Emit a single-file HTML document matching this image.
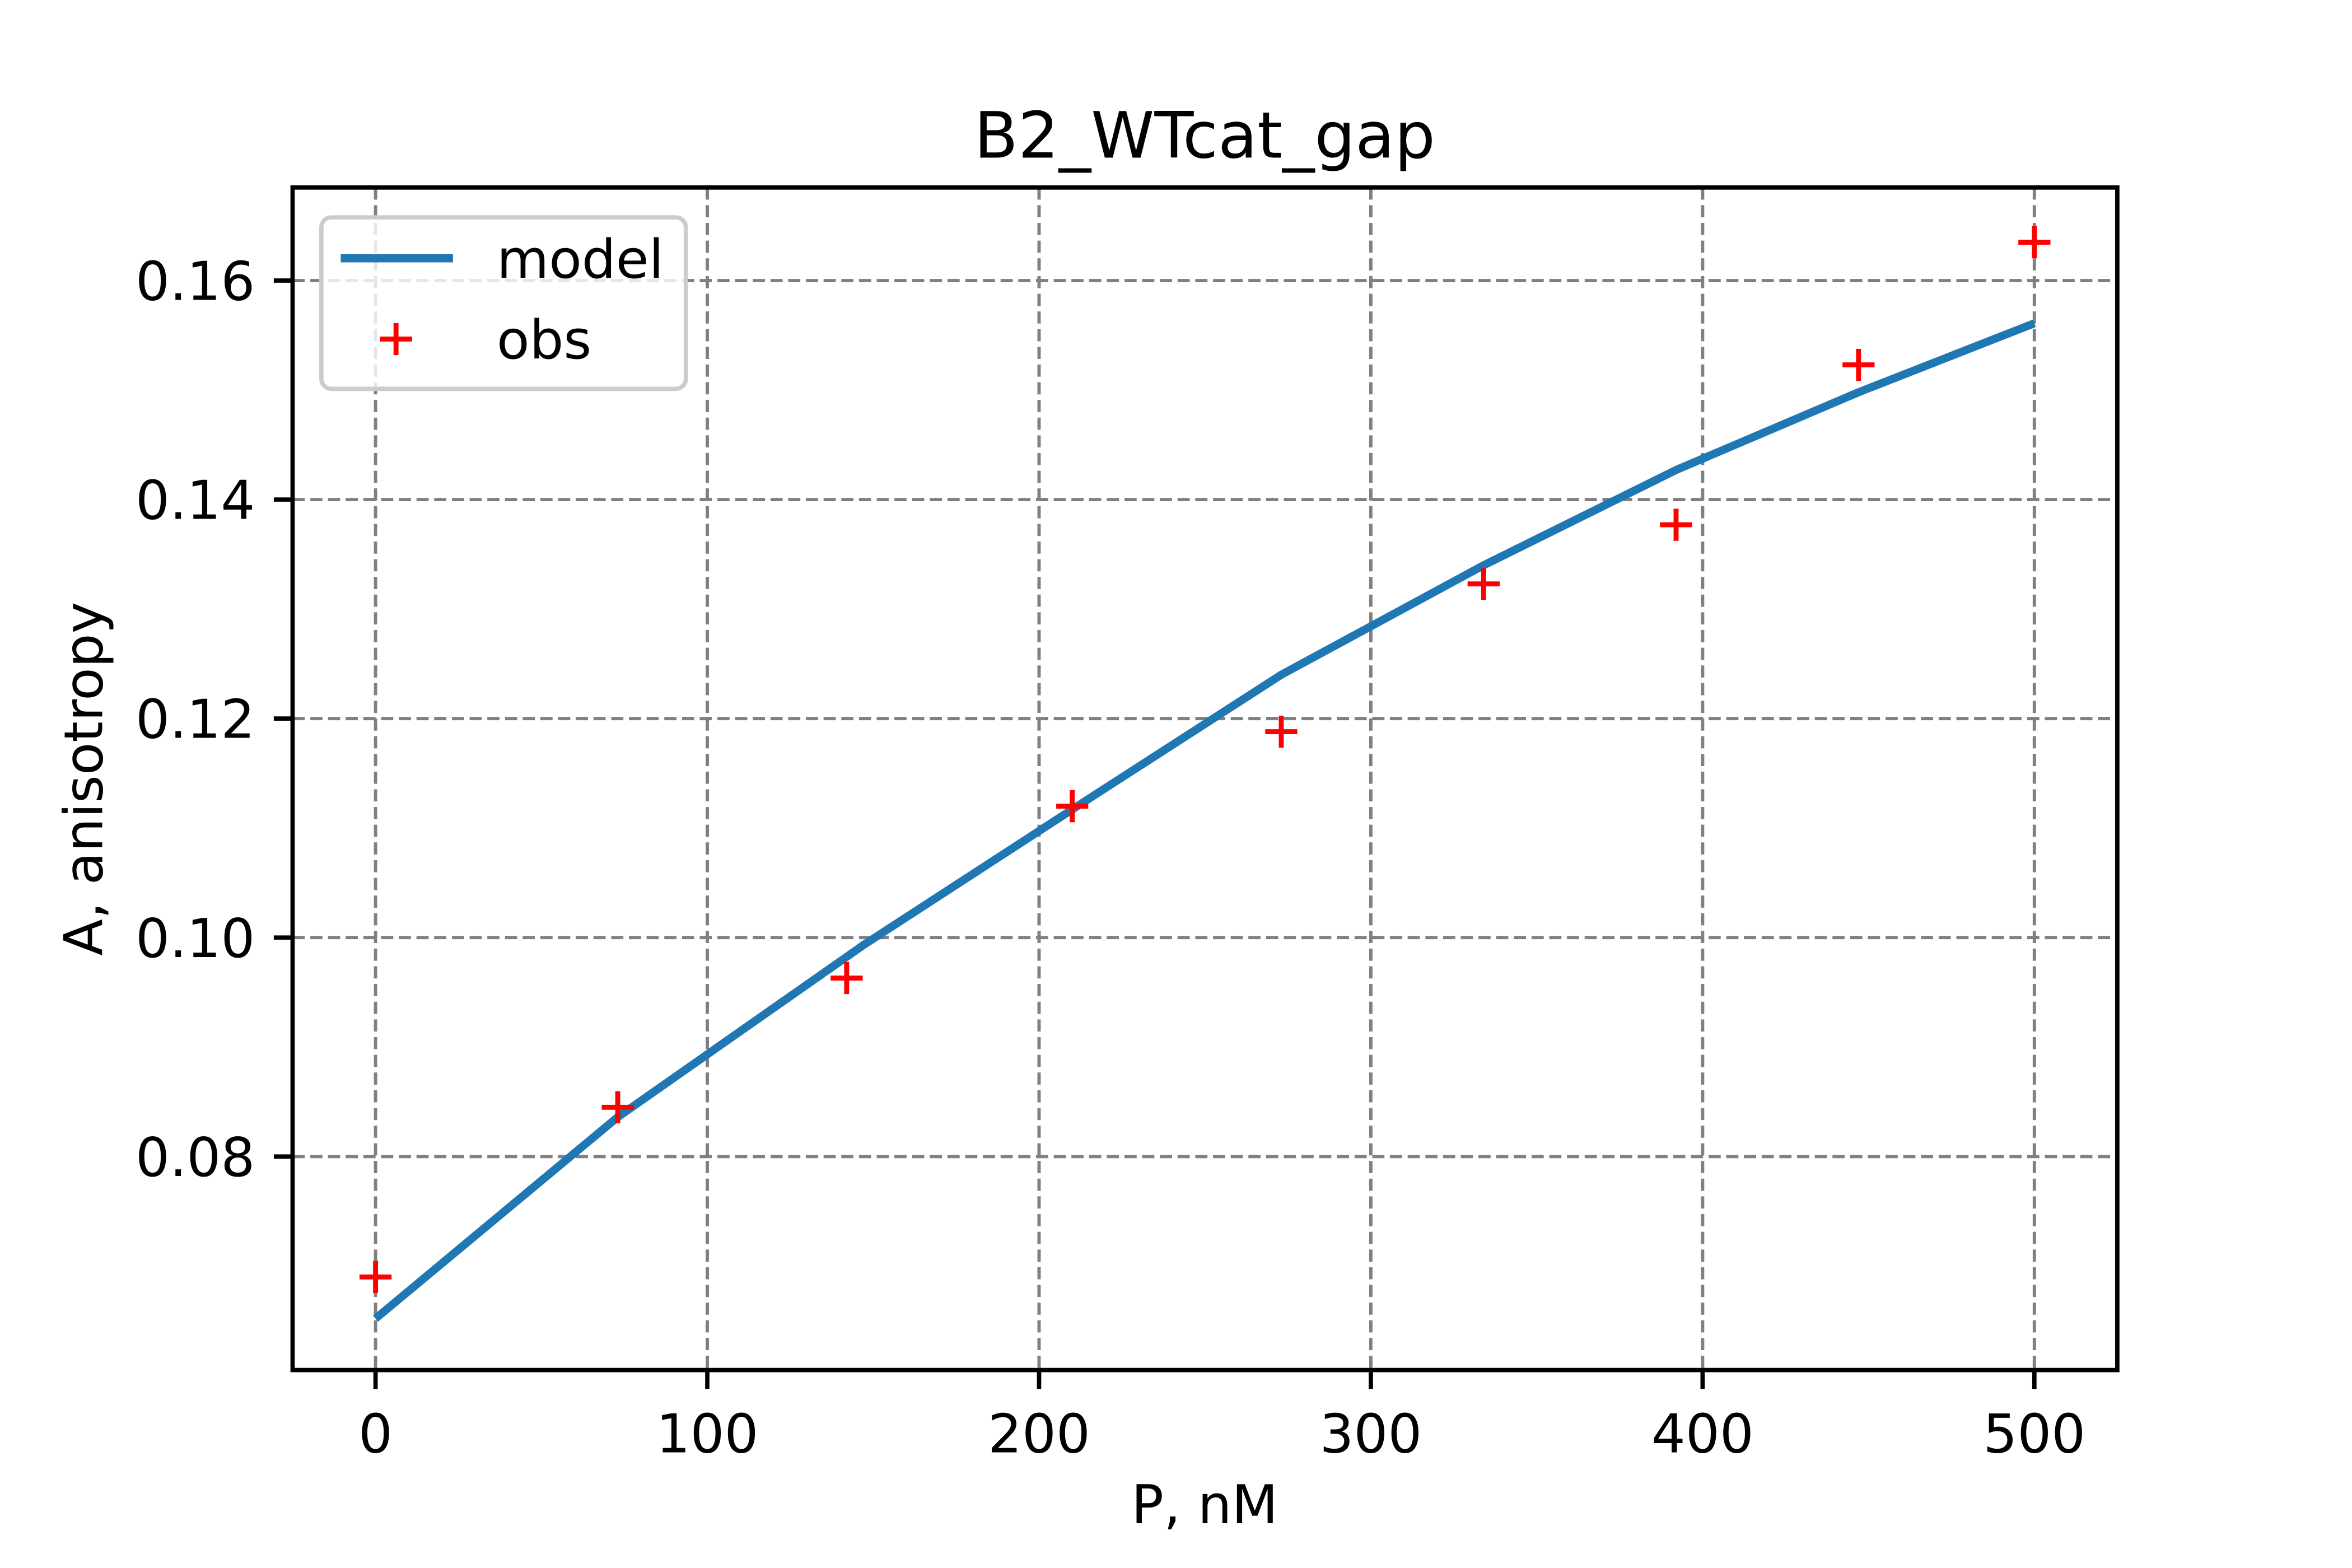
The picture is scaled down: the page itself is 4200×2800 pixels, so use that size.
<!DOCTYPE html>
<html><head><meta charset="utf-8"><style>
html,body{margin:0;padding:0;background:#fff;}
svg{display:block;font-family:"DejaVu Sans","Liberation Sans",sans-serif;}
</style></head><body>
<svg id="chart" width="4200" height="2800" viewBox="0 0 4200 2800" xmlns="http://www.w3.org/2000/svg">
<rect width="4200" height="2800" fill="#fff"/>
<g transform="scale(0.9877)">
<g id="grid"></g>
<g id="series"></g>
<rect x="529" y="339" width="3299" height="2138" fill="none" stroke="#000" stroke-width="7.8"/>
<g id="ticks"></g>
<text x="2178" y="285" font-size="116" text-anchor="middle">B2_WTcat_gap</text>
<text x="2178" y="2754" font-size="97" text-anchor="middle">P, nM</text>
<text transform="translate(185,1408) rotate(-90)" font-size="97" text-anchor="middle">A, anisotropy</text>
<g>
<rect x="581" y="393" width="659" height="310" rx="18" fill="#fff" fill-opacity="0.8" stroke="#ccc" stroke-width="7.8"/>
<line x1="616" y1="467" x2="819" y2="467" stroke="#1f77b4" stroke-width="14.6"/>
<text x="898" y="502" font-size="97">model</text>
<path d="M687 613H745M716 584V642" stroke="#f00" stroke-width="9"/>
<text x="898" y="648" font-size="97">obs</text>
</g>
</g>
</svg>
<script>
const obsX = [0, 73, 142, 210, 273, 334, 392, 447, 500];
const obsY = [0.069, 0.0845, 0.0963, 0.112, 0.1188, 0.1323, 0.1377, 0.1523, 0.1635];
const modelX = [0, 73, 147, 210, 273, 334, 392, 447, 500];
const modelY = [0.0652, 0.0836, 0.0993, 0.1117, 0.124, 0.134, 0.1427, 0.1498, 0.1561];
const xTicks = [0, 100, 200, 300, 400, 500];
const yTicks = [0.08, 0.10, 0.12, 0.14, 0.16];
const yTickLabels = ["0.08", "0.10", "0.12", "0.14", "0.16"];

const L=529,R=3828,T=339,B=2477;
const xMin=-25,xMax=525,yMin=0.0605,yMax=0.1685;
const sx=v=>L+(v-xMin)/(xMax-xMin)*(R-L);
const sy=v=>B-(v-yMin)/(yMax-yMin)*(B-T);
const NS="http://www.w3.org/2000/svg";
function mk(tag,attrs,parent){const e=document.createElementNS(NS,tag);for(const k in attrs)e.setAttribute(k,attrs[k]);parent.appendChild(e);return e;}
const grid=document.getElementById('grid'),ticks=document.getElementById('ticks'),series=document.getElementById('series');
xTicks.forEach(v=>{
  const x=sx(v);
  const g=mk('line',{x1:x,y1:T,x2:x,y2:B,stroke:'#808080','stroke-width':6,'stroke-dasharray':'22 10'},grid);
  
  
  const t=mk('line',{x1:x,y1:B,x2:x,y2:B+34,stroke:'#000','stroke-width':7.8},ticks);
  
  
  const l=mk('text',{x:x,y:2626,'font-size':97,'text-anchor':'middle'},ticks);
  l.textContent=String(v);
  
  
});
yTicks.forEach((v,i)=>{
  const y=sy(v);
  const g=mk('line',{x1:L,y1:y,x2:R,y2:y,stroke:'#808080','stroke-width':6,'stroke-dasharray':'22 10'},grid);
  
  
  const t=mk('line',{x1:L-34,y1:y,x2:L,y2:y,stroke:'#000','stroke-width':7.8},ticks);
  
  
  const l=mk('text',{x:461,y:y+35,'font-size':97,'text-anchor':'end'},ticks);
  l.textContent=yTickLabels[i];
  
  
});
const pts=modelX.map((v,i)=>sx(v)+','+sy(modelY[i])).join(' ');
const pl=mk('polyline',{points:pts,fill:'none',stroke:'#1f77b4','stroke-width':14.6,'stroke-linejoin':'round'},series);


obsX.forEach((v,i)=>{
  const x=sx(v),y=sy(obsY[i]);
  const p=mk('path',{d:`M${x-29} ${y}H${x+29}M${x} ${y-29}V${y+29}`,stroke:'#f00','stroke-width':9},series);
  
  
});
</script>
</body></html>
